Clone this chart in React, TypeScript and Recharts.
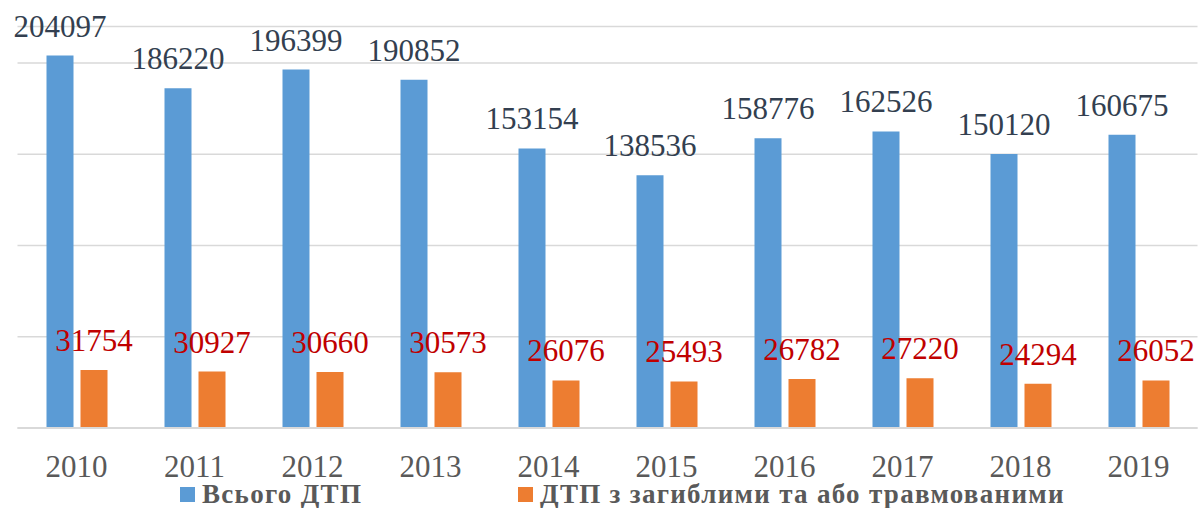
import { BarChart, Bar, CartesianGrid, XAxis, YAxis, LabelList } from "recharts";

// years on the category axis
const years = ["2010", "2011", "2012", "2013", "2014", "2015", "2016", "2017", "2018", "2019"];
// all road accidents
const totalAccidents = [204097, 186220, 196399, 190852, 153154, 138536, 158776, 162526, 150120, 160675];
// accidents with killed and/or injured
const casualtyAccidents = [31754, 30927, 30660, 30573, 26076, 25493, 26782, 27220, 24294, 26052];
const yTicks = [0, 50000, 100000, 150000, 200000];

const totalName = "Всього ДТП";
const casualtyName = "ДТП з загиблими та або травмованими";

const BLUE = "#5b9bd5";
const ORANGE = "#ed7d31";
const FONT = '"Liberation Serif", "Times New Roman", serif';

const data = years.map((y, i) => ({
  year: y,
  total: totalAccidents[i],
  casualty: casualtyAccidents[i],
}));

export default function App() {
  return (
    <div style={{ position: "absolute", left: 0, top: 0, width: 1200, height: 508, background: "#fff" }}>
      <BarChart
        width={1200}
        height={508}
        data={data}
        margin={{ top: 26.5, right: 2.5, bottom: 0, left: 17.5 }}
        barSize={27}
        barGap={7}
      >
        <CartesianGrid vertical={false} stroke="#d9d9d9" strokeWidth={1.5} />
        <YAxis hide domain={[0, 220000]} ticks={yTicks} />
        <XAxis
          dataKey="year"
          height={80}
          tickLine={false}
          tickSize={0}
          tickMargin={27}
          axisLine={{ stroke: "#d9d9d9", strokeWidth: 2 }}
          tick={{ fill: "#595959", fontSize: 31, fontFamily: FONT }}
          interval={0}
        />
        <Bar dataKey="total" name={totalName} fill={BLUE} isAnimationActive={false}>
          <LabelList
            dataKey="total"
            position="top"
            offset={19}
            fill="#333f50"
            style={{ fontSize: 31, fontFamily: FONT }}
          />
        </Bar>
        <Bar dataKey="casualty" name={casualtyName} fill={ORANGE} isAnimationActive={false}>
          <LabelList
            dataKey="casualty"
            position="top"
            offset={19}
            fill="#c00000"
            style={{ fontSize: 31, fontFamily: FONT }}
          />
        </Bar>
      </BarChart>

      {/* Legend */}
      {[
        { color: BLUE, label: totalName, left: 180 },
        { color: ORANGE, label: casualtyName, left: 518 },
      ].map((l) => (
        <div
          key={l.label}
          style={{
            position: "absolute",
            left: l.left,
            top: 485,
            height: 18,
            display: "flex",
            alignItems: "center",
            fontFamily: FONT,
            fontWeight: "bold",
            fontSize: 27,
            letterSpacing: 1.3,
            lineHeight: "18px",
            color: "#595959",
            whiteSpace: "nowrap",
          }}
        >
          <span style={{ width: 15, height: 15, background: l.color, marginRight: 7, display: "inline-block", flex: "none" }} />
          {l.label}
        </div>
      ))}
    </div>
  );
}
